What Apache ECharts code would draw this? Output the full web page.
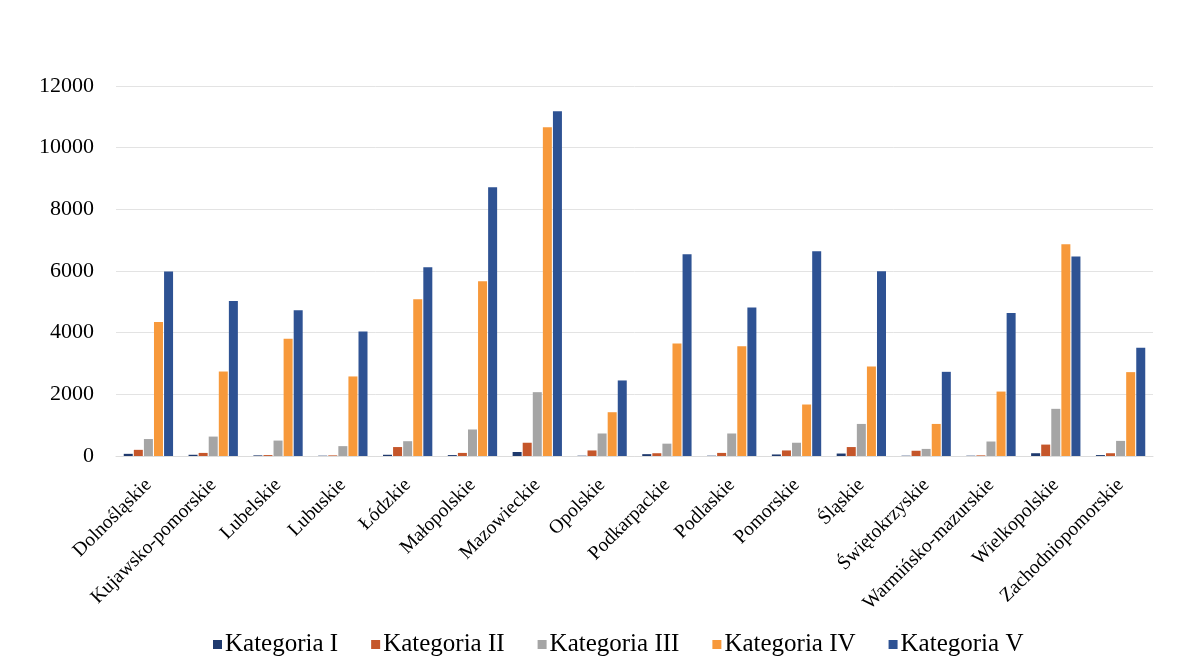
<!DOCTYPE html>
<html>
<head>
<meta charset="utf-8">
<script src="https://cdn.jsdelivr.net/npm/echarts@6/dist/echarts.min.js"></script>
<style>
html,body{margin:0;padding:0;background:#fff;}
#chart{width:1195px;height:671px;}
</style>
</head>
<body>
<div id="chart"></div>
<script>
const categories = ['Dolnośląskie','Kujawsko-pomorskie','Lubelskie','Lubuskie','Łódzkie','Małopolskie','Mazowieckie','Opolskie','Podkarpackie','Podlaskie','Pomorskie','Śląskie','Świętokrzyskie','Warmińsko-mazurskie','Wielkopolskie','Zachodniopomorskie'];
const seriesNames = ['Kategoria I','Kategoria II','Kategoria III','Kategoria IV','Kategoria V'];
const katI   = [70, 40, 20, 10, 40, 30, 130, 10, 60, 10, 50, 80, 10, 10, 90, 30];
const katII  = [200, 100, 30, 20, 290, 100, 430, 180, 90, 100, 180, 290, 170, 20, 370, 90];
const katIII = [550, 630, 500, 320, 480, 860, 2070, 730, 400, 730, 430, 1040, 230, 470, 1530, 490];
const katIV  = [4350, 2740, 3800, 2580, 5080, 5670, 10660, 1420, 3650, 3560, 1670, 2900, 1040, 2090, 6870, 2720];
const katV   = [5980, 5030, 4730, 4040, 6120, 8720, 11180, 2450, 6540, 4820, 6640, 5990, 2730, 4640, 6470, 3510];
const yTicks = [0, 2000, 4000, 6000, 8000, 10000, 12000];

const colors = ['#1f3a6e', '#c5562a', '#a5a5a5', '#f7993b', '#2e5293'];
const allData = [katI, katII, katIII, katIV, katV];
const font = 'Liberation Serif, Times New Roman, serif';

const chart = echarts.init(document.getElementById('chart'), null, {renderer: 'canvas'});
chart.setOption({
  backgroundColor: '#ffffff',
  animation: false,
  textStyle: {fontFamily: font},
  grid: {left: 116, right: 42, top: 86, bottom: 215, containLabel: false},
  legend: {
    bottom: 9,
    left: 208,
    itemWidth: 9, itemHeight: 9, itemGap: 33,
    icon: 'rect',
    textStyle: {fontFamily: font, fontSize: 25, color: '#000', padding: [0,0,0,-2]},
    data: seriesNames
  },
  xAxis: {
    type: 'category',
    data: categories,
    axisLine: {show: true, lineStyle: {color: '#dcdcdc'}},
    axisTick: {show: false},
    axisLabel: {rotate: 45, interval: 0, fontFamily: font, fontSize: 19.5, color: '#000', margin: 26}
  },
  yAxis: {
    type: 'value',
    min: yTicks[0], max: yTicks[yTicks.length-1], interval: 2000,
    axisLine: {show: false},
    axisTick: {show: false},
    splitLine: {lineStyle: {color: '#e3e3e3'}},
    axisLabel: {fontFamily: font, fontSize: 22, color: '#000', margin: 22, formatter: v => String(v)}
  },
  series: seriesNames.map((n, i) => ({
    name: n,
    type: 'bar',
    data: allData[i],
    barWidth: 9,
    barGap: '12%',
    itemStyle: {color: colors[i]}
  }))
});
</script>
</body>
</html>
